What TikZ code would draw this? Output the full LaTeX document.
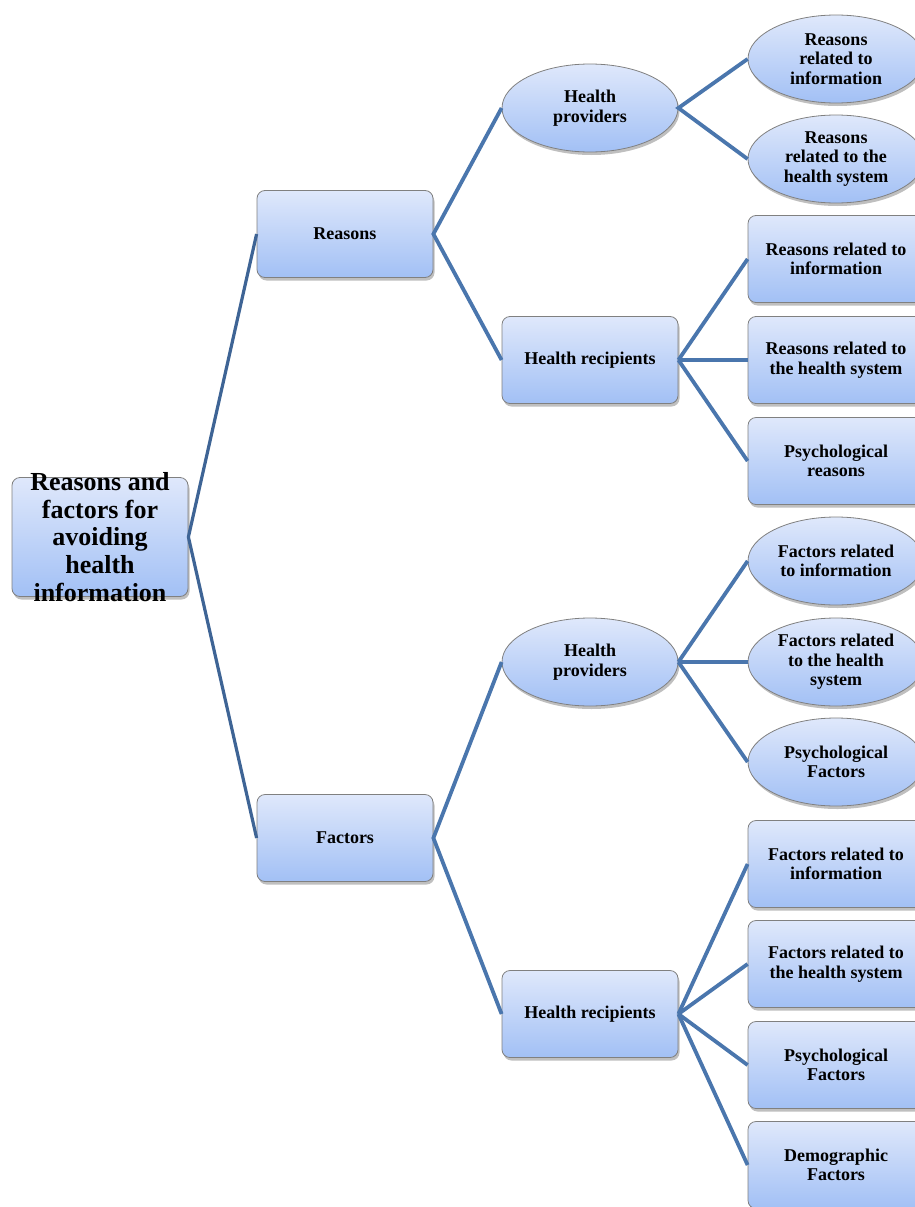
\documentclass[tikz,border=0pt]{standalone}
\usepackage{fontspec}
\setmainfont{Liberation Serif}
\usetikzlibrary{shapes.geometric,shadows}
\definecolor{topc}{HTML}{DFE8FB}
\definecolor{botc}{HTML}{A2C0F5}
\definecolor{edgec}{HTML}{808080}
\definecolor{linec}{HTML}{4A76AD}
\definecolor{rootline}{HTML}{3E6495}
\tikzset{
  base/.style={draw=edgec, line width=0.8pt, top color=topc, bottom color=botc,
    minimum width=176pt, minimum height=87pt, inner sep=2pt, align=center,
    font=\fontsize{18}{19.5}\selectfont\bfseries,
    drop shadow={shadow xshift=1.5pt, shadow yshift=-3pt, fill=black, opacity=0.25}},
  rbox/.style={base, rectangle, rounded corners=8pt},
  oval/.style={base, ellipse, inner sep=0pt},
  conn/.style={draw=linec, line width=3.8pt},
  rconn/.style={draw=rootline, line width=3.2pt},
}
\begin{document}
\begin{tikzpicture}[x=1pt,y=-1pt]
\useasboundingbox (0,0) rectangle (914,1207);
% root
\node[rbox, minimum height=119pt, inner ysep=-9pt, font=\fontsize{26}{27.7}\selectfont\bfseries] (root) at (100,537) {Reasons and\\factors for\\avoiding\\health\\information};
% level 1
\node[rbox] (reasons) at (345,234) {Reasons};
\node[rbox] (factors) at (345,838) {Factors};
% level 2
\node[oval, minimum height=88pt] (hp1) at (590,108) {Health\\providers};
\node[rbox] (hr1) at (590,360) {Health recipients};
\node[oval, minimum height=88pt] (hp2) at (590,662) {Health\\providers};
\node[rbox] (hr2) at (590,1014) {Health recipients};
% level 3
\node[oval, minimum height=88pt] (a1) at (836,59) {Reasons\\related to\\information};
\node[oval, minimum height=88pt] (a2) at (836,159) {Reasons\\related to the\\health system};
\node[rbox] (b1) at (836,259) {Reasons related to\\information};
\node[rbox] (b2) at (836,360) {Reasons related to\\the health system};
\node[rbox] (b3) at (836,461) {Psychological\\reasons};
\node[oval, minimum height=88pt] (c1) at (836,561) {Factors related\\to information};
\node[oval, minimum height=88pt] (c2) at (836,662) {Factors related\\to the health\\system};
\node[oval, minimum height=88pt] (c3) at (836,762) {Psychological\\Factors};
\node[rbox] (d1) at (836,864) {Factors related to\\information};
\node[rbox] (d2) at (836,964) {Factors related to\\the health system};
\node[rbox] (d3) at (836,1065) {Psychological\\Factors};
\node[rbox] (d4) at (836,1165) {Demographic\\Factors};
% connectors
\draw[rconn] (reasons.west) -- (root.east) -- (factors.west);
\draw[conn] (hp1.west) -- (reasons.east) -- (hr1.west);
\draw[conn] (hp2.west) -- (factors.east) -- (hr2.west);
\draw[conn] (a1.west) -- (hp1.east) -- (a2.west);
\foreach \t in {b1,b2,b3} \draw[conn] (hr1.east) -- (\t.west);
\foreach \t in {c1,c2,c3} \draw[conn] (hp2.east) -- (\t.west);
\foreach \t in {d1,d2,d3,d4} \draw[conn] (hr2.east) -- (\t.west);
\end{tikzpicture}
\end{document}
